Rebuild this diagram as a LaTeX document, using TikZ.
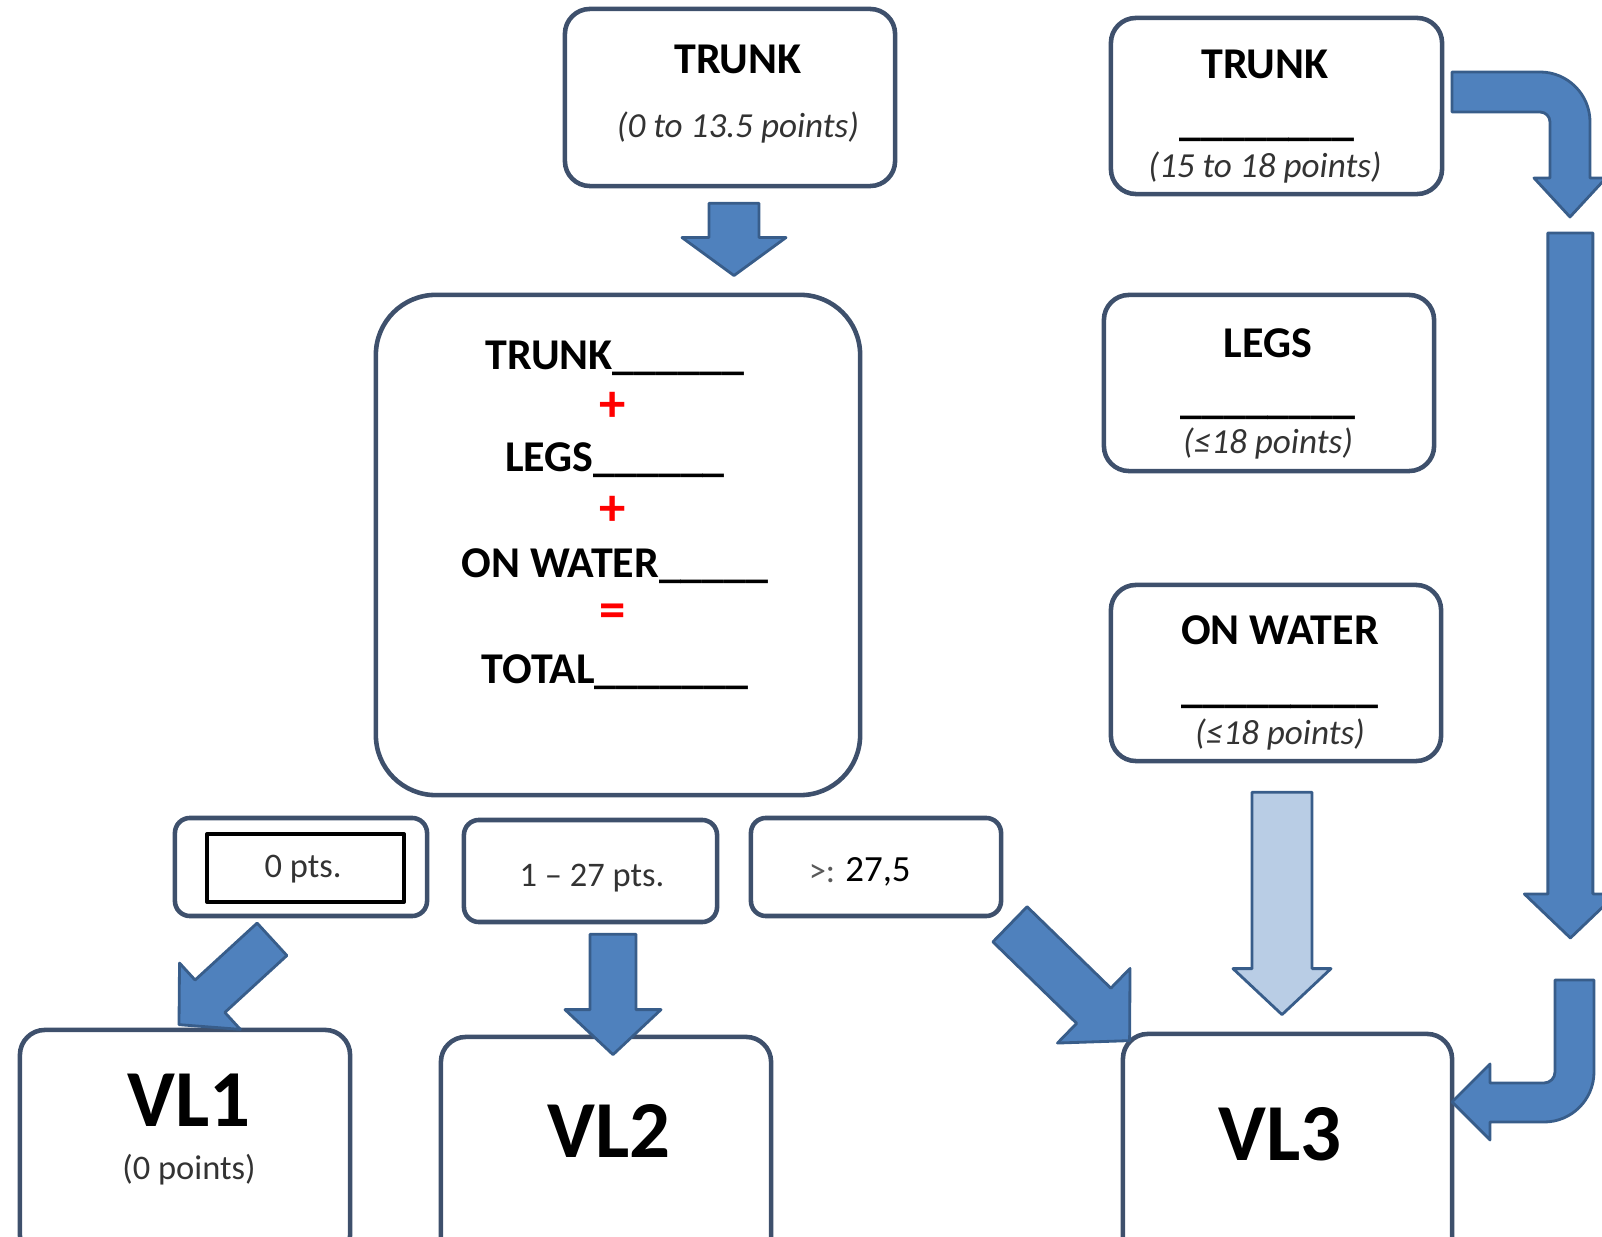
\documentclass[tikz,border=0pt]{standalone}
\usepackage{fontspec}
\setmainfont{Carlito}
\usetikzlibrary{calc}
\definecolor{boxline}{RGB}{62,80,108}
\definecolor{arrowfill}{RGB}{79,129,189}
\definecolor{arrowline}{RGB}{56,93,138}
\definecolor{paleblue}{RGB}{185,205,229}
% block arrow: [style]{tail}{tip}{half body}{half head}{head length}
\newcommand\blockarrow[6][]{%
\coordinate (bah) at ($(#3)!#6!(#2)$);
\filldraw[arrowbody,#1] ($(#2)!#4!90:(#3)$) -- ($(bah)!#4!-90:(#2)$) -- ($(bah)!#5!-90:(#2)$) -- (#3)
 -- ($(bah)!#5!90:(#2)$) -- ($(bah)!#4!90:(#2)$) -- ($(#2)!#4!-90:(#3)$) -- cycle;}
\begin{document}
\begin{tikzpicture}[x=0.01cm,y=-0.01cm,line join=round,
box/.style={draw=boxline,line width=1.3pt,rounded corners=0.25cm,inner sep=0pt},
head/.style={font=\fontsize{12.5}{15}\selectfont\bfseries,inner sep=0pt},
note/.style={font=\fontsize{10}{12}\selectfont\itshape,text=black!80,inner sep=0pt},
small/.style={font=\fontsize{9.8}{12}\selectfont,text=black!80,inner sep=0pt},
big/.style={font=\fontsize{23}{27}\selectfont\bfseries,inner sep=0pt},
sign/.style={font=\fontsize{15}{18}\selectfont\bfseries,text=red,inner sep=0pt},
arrowbody/.style={fill=arrowfill,draw=arrowline,line width=0.8pt}]
\useasboundingbox (0,0) rectangle (1602,1237);
\clip (0,0) rectangle (1602,1237);
% boxes
\node[box,minimum width=3.3cm,minimum height=1.77cm] (trunk) at (730,97.5) {};
\node[box,rounded corners=0.6cm,minimum width=4.84cm,minimum height=5cm] (sum) at (618,545) {};
\node[box,rounded corners=0.15cm,minimum width=2.52cm,minimum height=0.98cm] (zero) at (301,867) {};
\node[draw,line width=1.1pt,minimum width=1.97cm,minimum height=0.68cm,inner sep=0pt] (zeroin) at (305.5,868) {};
\node[box,rounded corners=0.15cm,minimum width=2.53cm,minimum height=1.02cm] (mid) at (590.5,871) {};
\node[box,rounded corners=0.15cm,minimum width=2.5cm,minimum height=0.98cm] (high) at (876,867) {};
\node[box,minimum width=3.3cm,minimum height=2.3cm] (vl1) at (185,1145) {};
\node[box,minimum width=3.3cm,minimum height=2.3cm] (vl2) at (606,1152) {};
\node[box,minimum width=3.29cm,minimum height=2.3cm] (vl3) at (1287.5,1149) {};
\node[box,minimum width=3.31cm,minimum height=1.76cm] (trunkr) at (1276.5,106) {};
\node[box,minimum width=3.3cm,minimum height=1.76cm] (legs) at (1269,383) {};
\node[box,minimum width=3.3cm,minimum height=1.76cm] (water) at (1276,673) {};
% texts
\node[head] (t1) at (738,59) {TRUNK};
\node[note] (t1n) at (738,127) {(0 to 13.5 points)};
\node[head,anchor=base] (s1) at (615,370) {TRUNK\_\_\_\_\_\_};
\node[sign] (p1) at (613,407) {+};
\node[head,anchor=base] (s2) at (615,472) {LEGS\_\_\_\_\_\_};
\node[sign] (p2) at (613,511) {+};
\node[head,anchor=base] (s3) at (615,578) {ON WATER\_\_\_\_\_};
\node[sign] (p3) at (613,616) {=};
\node[head,anchor=base] (s4) at (615,684) {TOTAL\_\_\_\_\_\_\_};
\node[small] (zt) at (303,869) {0 pts.};
\node[small] (mt) at (592,878) {1 – 27 pts.};
\node[small,text=black!65] (ht1) at (822,874) {>:};
\node[small,font=\fontsize{10.5}{12}\selectfont,text=black] (ht2) at (878,872) {27,5};
\node[big] (v1) at (189,1100) {VL1};
\node[small] (v1n) at (189,1170) {(0 points)};
\node[big] (v2) at (609,1131) {VL2};
\node[big] (v3) at (1280,1134) {VL3};
\node[head] (r1) at (1265,64) {TRUNK};
\node[head,anchor=base] (r1l) at (1267,136) {\_\_\_\_\_\_\_\_};
\node[note] (r1n) at (1265,167) {(15 to 18 points)};
\node[head] (r2) at (1268,343) {LEGS};
\node[head,anchor=base] (r2l) at (1268,414) {\_\_\_\_\_\_\_\_};
\node[note] (r2n) at (1268,443) {(≤18 points)};
\node[head] (r3) at (1280,630) {ON WATER};
\node[head,anchor=base] (r3l) at (1280,703) {\_\_\_\_\_\_\_\_\_};
\node[note] (r3n) at (1280,734) {(≤18 points)};
% straight block arrows
\coordinate (a1s) at ($(trunk.south)+(4,15)$);
\coordinate (a1e) at ($(a1s |- sum.north)+(0,-17)$);
\blockarrow{a1s}{a1e}{0.25cm}{0.52cm}{0.38cm}
\coordinate (a2s) at ($(zero.south)+(-29,21)$);
\coordinate (a2e) at ($(vl1.north)+(-6,-3)$);
\blockarrow{a2s}{a2e}{0.22cm}{0.45cm}{0.42cm}
\coordinate (a3s) at ($(mid.south)+(22.5,10)$);
\coordinate (a3e) at ($(a3s |- vl2.north)+(0,20)$);
\blockarrow{a3s}{a3e}{0.23cm}{0.48cm}{0.45cm}
\coordinate (a4s) at ($(high.south)+(134,6)$);
\coordinate (a4e) at ($(vl3.north west)+(9,9)$);
\blockarrow{a4s}{a4e}{0.245cm}{0.52cm}{0.5cm}
\coordinate (a5s) at ($(water.south)+(6,29)$);
\coordinate (a5e) at ($(a5s |- vl3.north)+(0,-17)$);
\blockarrow[fill=paleblue]{a5s}{a5e}{0.3cm}{0.49cm}{0.46cm}
\coordinate (a6s) at ($(trunkr.east)+(126,127)$);
\coordinate (a6e) at ($(a6s)+(0,705)$);
\blockarrow{a6s}{a6e}{0.225cm}{0.46cm}{0.44cm}
% bent arrows
\filldraw[arrowbody] (1452,72) -- (1540,72) arc[start angle=90,end angle=0,radius=0.5cm] -- (1590,178)
 -- (1606,178) -- (1570,217) -- (1534,178) -- (1550,178) -- (1550,122)
 arc[start angle=0,end angle=90,radius=0.1cm] -- (1452,112) -- cycle;
\filldraw[arrowbody] (1555,980) -- (1594,980) -- (1594,1072) arc[start angle=0,end angle=-90,radius=0.5cm]
 -- (1490,1122) -- (1490,1140) -- (1452,1102) -- (1490,1064) -- (1490,1083) -- (1544,1083)
 arc[start angle=-90,end angle=0,radius=0.11cm] -- cycle;
\end{tikzpicture}
\end{document}
